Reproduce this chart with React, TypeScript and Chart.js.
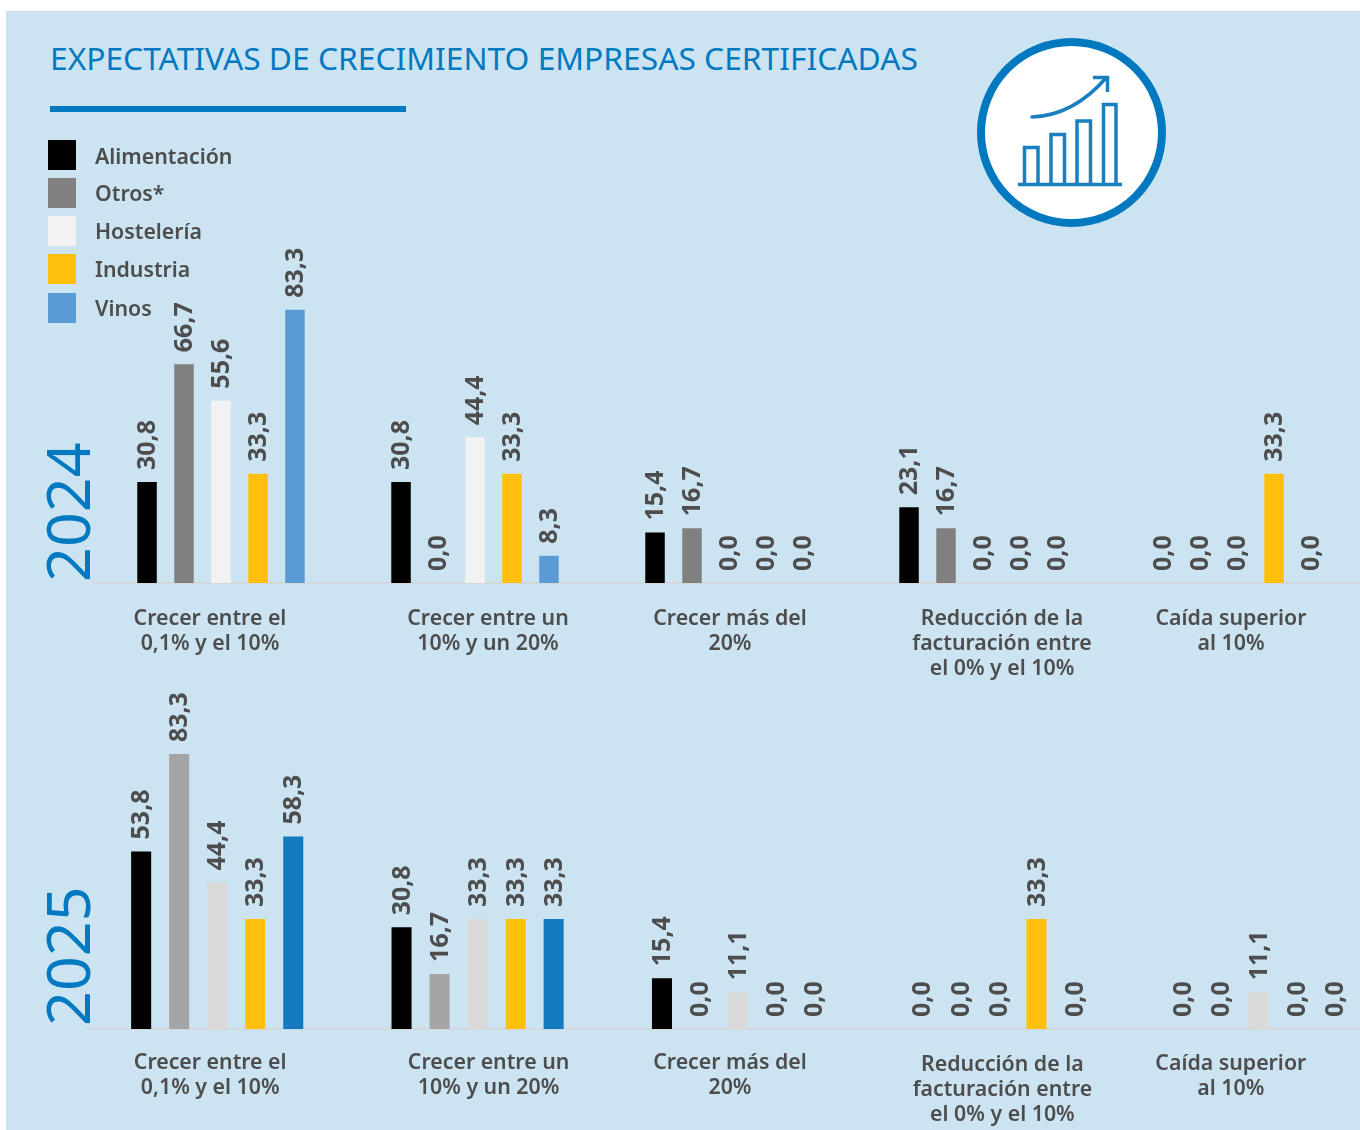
import React, { useEffect, useRef } from "react";
import { Chart, registerables } from "chart.js";

Chart.register(...registerables);

const categories = [
  ["Crecer entre el", "0,1% y el 10%"],
  ["Crecer entre un", "10% y un 20%"],
  ["Crecer más del", "20%"],
  ["Reducción de la", "facturación entre", "el 0% y el 10%"],
  ["Caída superior", "al 10%"],
];
const seriesNames = ["Alimentación", "Otros*", "Hostelería", "Industria", "Vinos"];

const alimentacion2024 = [30.8, 30.8, 15.4, 23.1, 0];
const otros2024 = [66.7, 0, 16.7, 16.7, 0];
const hosteleria2024 = [55.6, 44.4, 0, 0, 0];
const industria2024 = [33.3, 33.3, 0, 0, 33.3];
const vinos2024 = [83.3, 8.3, 0, 0, 0];

const alimentacion2025 = [53.8, 30.8, 15.4, 0, 0];
const otros2025 = [83.3, 16.7, 0, 0, 0];
const hosteleria2025 = [44.4, 33.3, 11.1, 0, 11.1];
const industria2025 = [33.3, 33.3, 0, 33.3, 0];
const vinos2025 = [58.3, 33.3, 0, 0, 0];

const colors2024 = ["#000000", "#808080", "#f2f2f2", "#ffc00d", "#5b9bd5"];
const colors2025 = ["#000000", "#a5a5a5", "#d9d9d9", "#ffc00d", "#137ac0"];

const BLUE = "#0079c1";
const TEXT = "#4d4d4d";
const FONT = '"Noto Sans", sans-serif';

function makePlugins(labelDx: number[], labelDy: number[]) {
  const shifted = new WeakSet<object>();
  return [
    {
      id: "shiftTicks",
      beforeDraw(chart: any) {
        const items = chart.scales.x.getLabelItems();
        items.forEach((it: any, i: number) => {
          if (shifted.has(it)) return;
          shifted.add(it);
          it.options.translation[0] += labelDx[i];
          it.options.translation[1] += labelDy[i];
        });
      },
    },
    {
      id: "valueLabels",
      afterDatasetsDraw(chart: any) {
        const { ctx } = chart;
        chart.data.datasets.forEach((ds: any, i: number) => {
          chart.getDatasetMeta(i).data.forEach((bar: any, j: number) => {
            const text = ds.data[j].toFixed(1).replace(".", ",");
            ctx.save();
            ctx.translate(bar.x + 1, bar.y - 12);
            ctx.rotate(-Math.PI / 2);
            ctx.font = `700 25px ${FONT}`;
            ctx.fillStyle = TEXT;
            ctx.textAlign = "left";
            ctx.textBaseline = "middle";
            ctx.fillText(text, 0, 0);
            ctx.restore();
          });
        });
      },
    },
  ];
}

type PanelProps = {
  series: number[][];
  colors: string[];
  top: number;
  height: number;
  padTop: number;
  padLeft: number;
  padRight: number;
  scaleHeight: number;
  catPct: number;
  labelDx: number[];
  labelDy: number[];
};

function BarPanel(p: PanelProps) {
  const ref = useRef<HTMLCanvasElement>(null);
  useEffect(() => {
    const chart = new Chart(ref.current as HTMLCanvasElement, {
      type: "bar",
      data: {
        labels: categories as any,
        datasets: p.series.map((data, i) => ({
          label: seriesNames[i],
          data,
          backgroundColor: p.colors[i],
          categoryPercentage: p.catPct,
          barPercentage: 0.527,
        })),
      },
      options: {
        animation: false,
        responsive: false,
        devicePixelRatio: 1,
        layout: { padding: { top: p.padTop, left: p.padLeft, right: p.padRight, bottom: 0 } },
        plugins: { legend: { display: false }, title: { display: false }, tooltip: { enabled: false } },
        scales: {
          x: {
            grid: { display: false, drawTicks: false },
            border: { color: "#d3d8db", width: 2 },
            ticks: {
              autoSkip: false,
              maxRotation: 0,
              minRotation: 0,
              padding: 22,
              color: TEXT,
              font: { family: FONT, size: 21.3, weight: "600", lineHeight: 25 / 21.3 },
            },
            afterFit: (s: any) => {
              s.height = p.scaleHeight;
            },
          },
          y: { display: false, min: 0, max: 100 },
        },
      },
      plugins: makePlugins(p.labelDx, p.labelDy),
    } as any);
    return () => chart.destroy();
  }, []);
  return (
    <canvas
      ref={ref}
      width={1400}
      height={p.height}
      style={{ position: "absolute", left: 0, top: p.top, width: 1400, height: p.height }}
    />
  );
}

const legendTops = [140, 178, 216, 254, 293];
const legendTextTops = [141, 178, 216, 254, 293];

function Year({ text, bottom }: { text: string; bottom: number }) {
  return (
    <div
      style={{
        position: "absolute",
        left: 67,
        top: bottom,
        transform: "rotate(-90deg)",
        transformOrigin: "0 0",
        fontFamily: FONT,
        fontWeight: 400,
        fontSize: 61,
        lineHeight: "64px",
        color: BLUE,
        whiteSpace: "nowrap",
      }}
    >
      <span style={{ position: "absolute", left: 0, top: -32 }}>{text}</span>
    </div>
  );
}

function Icon() {
  return (
    <svg
      width={200}
      height={200}
      viewBox="972 33 200 200"
      style={{ position: "absolute", left: 972, top: 33 }}
    >
      <circle cx={1071.5} cy={132.5} r={90.5} fill="#fff" stroke={BLUE} strokeWidth={8} />
      <g fill="none" stroke="#1a7fc0" strokeWidth={3.5}>
        <path d="M1024.5 184V147.5H1038V184" />
        <path d="M1051 184V134.5H1064.5V184" />
        <path d="M1077 184V121H1090.5V184" />
        <path d="M1103.5 184V104.5H1116V184" />
        <path d="M1018 184.5H1122" />
        <path d="M1032 117C1060 116 1085 102 1106 78" strokeLinecap="round" />
        <path d="M1093 77.5H1107.5V92" />
      </g>
    </svg>
  );
}

export default function App() {
  useEffect(() => {
    document.documentElement.style.overflow = "hidden";
    document.body.style.margin = "0";
  }, []);
  return (
    <div style={{ position: "fixed", left: 0, top: 0, width: 1360, height: 1130, overflow: "hidden", background: "#fff" }}>
      <div style={{ position: "absolute", left: 6, top: 11, width: 1354, height: 1119, background: "#cce4f2" }} />
      <div
        style={{
          position: "absolute",
          left: 50,
          top: 37,
          fontFamily: FONT,
          fontSize: 31.75,
          lineHeight: "42px",
          color: BLUE,
          whiteSpace: "nowrap",
        }}
      >
        EXPECTATIVAS DE CRECIMIENTO EMPRESAS CERTIFICADAS
      </div>
      <div style={{ position: "absolute", left: 50, top: 106, width: 356, height: 6, background: BLUE }} />
      <BarPanel
        series={[alimentacion2024, otros2024, hosteleria2024, industria2024, vinos2024]}
        colors={colors2024}
        top={231}
        height={462}
        padTop={24}
        padLeft={94}
        padRight={36}
        scaleHeight={110}
        catPct={0.728}
        labelDx={[-11, 13, 1, 19, -6]}
        labelDy={[1, 1, 1, 1, 1]}
      />
      <BarPanel
        series={[alimentacion2025, otros2025, hosteleria2025, industria2025, vinos2025]}
        colors={colors2025}
        top={680}
        height={449}
        padTop={19}
        padLeft={87}
        padRight={11}
        scaleHeight={100}
        catPct={0.73}
        labelDx={[-7, 11, -8, 4, -28]}
        labelDy={[-1, -1, -1, 1, 0]}
      />
      {seriesNames.map((name, i) => (
        <React.Fragment key={name}>
          <div style={{ position: "absolute", left: 48, top: legendTops[i], width: 28, height: 30, background: colors2024[i] }} />
          <div
            style={{
              position: "absolute",
              left: 95,
              top: legendTextTops[i],
              fontFamily: FONT,
              fontWeight: 600,
              fontSize: 21.3,
              lineHeight: "30px",
              color: TEXT,
              whiteSpace: "nowrap",
            }}
          >
            {name}
          </div>
        </React.Fragment>
      ))}
      <Year text="2024" bottom={582} />
      <Year text="2025" bottom={1026} />
      <Icon />
    </div>
  );
}
